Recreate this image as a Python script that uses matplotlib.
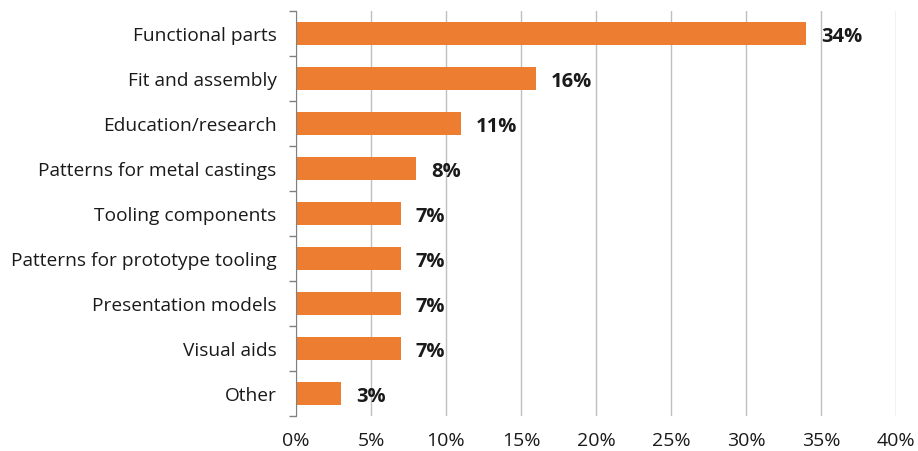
import matplotlib
matplotlib.use('Agg')
import matplotlib.pyplot as plt
import numpy as np

plt.rcParams['font.family'] = ['Open Sans', 'DejaVu Sans']

categories = ['Functional parts', 'Fit and assembly', 'Education/research',
              'Patterns for metal castings', 'Tooling components',
              'Patterns for prototype tooling', 'Presentation models',
              'Visual aids', 'Other']
values = [34, 16, 11, 8, 7, 7, 7, 7, 3]
xticks = [0, 5, 10, 15, 20, 25, 30, 35, 40]

fig = plt.figure(figsize=(9.18, 4.52), dpi=100)
ax = fig.add_axes([296/918, 1 - 417/452, 600/918, 405/452])

y = np.arange(len(categories))
ax.barh(y, values, height=0.53, color='#ED7D31', zorder=3)

for yi, v in zip(y, values):
    ax.text(v + 1.0, yi + 0.05, f'{v}%', va='center', ha='left',
            fontsize=14.5, fontweight='bold', color='#1a1a1a')

ax.set_xlim(0, 40)
ax.set_ylim(len(categories) - 0.5, -0.5)
ax.set_xticks(xticks)
ax.set_xticklabels([f'{t}%' for t in xticks], fontsize=14, color='#1a1a1a')
ax.set_yticks(y)
ax.set_yticklabels(categories, fontsize=13.8, color='#1a1a1a')
ax.set_yticks(np.arange(len(categories) + 1) - 0.5, minor=True)
ax.tick_params(axis='y', which='major', length=0, pad=14)
ax.tick_params(axis='y', which='minor', length=5, color='#808080', width=1)
ax.tick_params(axis='x', length=0, pad=11)

ax.grid(axis='x', color='#BFBFBF', linewidth=1, zorder=0)
for s in ['top', 'right', 'bottom']:
    ax.spines[s].set_visible(False)
ax.spines['left'].set_color('#808080')
ax.spines['left'].set_zorder(4)

plt.savefig('out.png', dpi=100)
